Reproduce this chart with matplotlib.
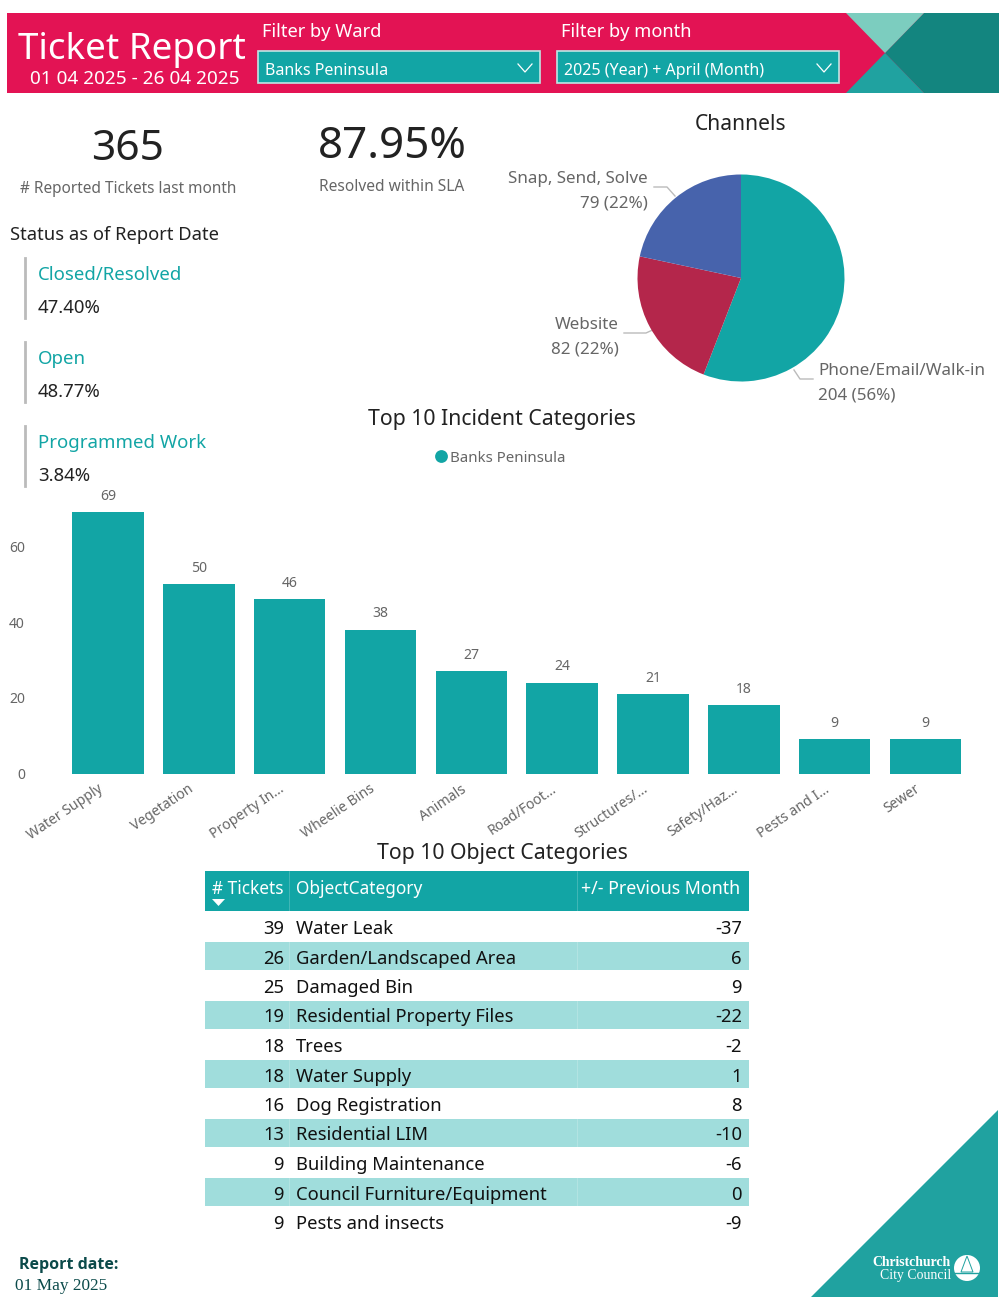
import matplotlib
matplotlib.use("Agg")
import matplotlib.pyplot as plt
from matplotlib.patches import Polygon, Rectangle, Circle
from matplotlib.transforms import ScaledTranslation

plt.rcParams["font.family"] = ["Noto Sans", "DejaVu Sans"]

W, H = 1004, 1312
TEAL = "#12A5A5"
PINK = "#E31354"
GREY = "#666666"
DARK = "#222222"
LOGO = "#20A2A0"

incident_categories = ["Water Supply", "Vegetation", "Property In...", "Wheelie Bins", "Animals",
                       "Road/Foot...", "Structures/...", "Safety/Haz...", "Pests and I...", "Sewer"]
incident_counts = [69, 50, 46, 38, 27, 24, 21, 18, 9, 9]

channel_names = ["Phone/Email/Walk-in", "Website", "Snap, Send, Solve"]
channel_counts = [204, 82, 79]
channel_colors = [TEAL, "#B4264B", "#4763AC"]

ticket_counts = [39, 26, 25, 19, 18, 18, 16, 13, 9, 9, 9]
object_categories = ["Water Leak", "Garden/Landscaped Area", "Damaged Bin", "Residential Property Files",
                     "Trees", "Water Supply", "Dog Registration", "Residential LIM",
                     "Building Maintenance", "Council Furniture/Equipment", "Pests and insects"]
previous_month = [-37, 6, 9, -22, -2, 1, 8, -10, -6, 0, -9]

status_names = ["Closed/Resolved", "Open", "Programmed Work"]
status_values = ["47.40%", "48.77%", "3.84%"]


def px_axes(left, top, right, bottom):
    return fig.add_axes([left / W, 1 - bottom / H, (right - left) / W, (bottom - top) / H])


def txt(x, y, s, size, color=DARK, ha="left", **kw):
    # size is in pixels, dpi is 100, y nudged since the font sits high
    bg.text(x, y + 2, s, fontsize=size * 0.72, color=color, ha=ha, va="center", **kw)


fig = plt.figure(figsize=(W / 100, H / 100), dpi=100)

# background layer in pixel coordinates
bg = fig.add_axes([0, 0, 1, 1])
bg.set_xlim(0, W)
bg.set_ylim(H, 0)
bg.axis("off")

# header band
bg.add_patch(Rectangle((7, 13), 992, 80, color=PINK, lw=0))
bg.add_patch(Polygon([(924, 13), (999, 13), (999, 93), (924, 93), (885, 53)], color="#13857F", lw=0))
bg.add_patch(Polygon([(846, 13), (924, 13), (885, 53)], color="#7CCDBF", lw=0))
bg.add_patch(Polygon([(846, 93), (924, 93), (885, 53)], color=LOGO, lw=0))
txt(132, 48, "Ticket Report", 36.8, "white", ha="center")
txt(135, 77, "01 04 2025 - 26 04 2025", 19, "white", ha="center")
txt(262, 30, "Filter by Ward", 18.3, "white")
txt(561, 30, "Filter by month", 18.3, "white")
for x0, label in [(258, "Banks Peninsula"), (557, "2025 (Year) + April (Month)")]:
    bg.add_patch(Rectangle((x0, 51), 282, 32, facecolor=TEAL, edgecolor="#BFE6E4", lw=1.2))
    txt(x0 + 7, 69, label, 16, "white")
    bg.plot([x0 + 260, x0 + 267, x0 + 274], [64, 72, 64], color="white", lw=0.9)

# KPI cards
txt(128, 147, "365", 42.5, ha="center")
txt(128, 187, "# Reported Tickets last month", 15.4, GREY, ha="center")
txt(392, 145, "87.95%", 44, ha="center")
txt(392, 185, "Resolved within SLA", 15.5, GREY, ha="center")

# status list
txt(10, 233, "Status as of Report Date", 18.4)
for i, (name, value) in enumerate(zip(status_names, status_values)):
    top = 258 + 84 * i
    bg.plot([25, 25], [top, top + 60], color="#BBBBBB", lw=2)
    txt(38, top + 15, name, 18.6, TEAL)
    txt(38, top + 48, value, 18.6)

# titles
txt(741, 123, "Channels", 21, ha="center")
txt(502, 417, "Top 10 Incident Categories", 21.3, ha="center")
txt(502, 851, "Top 10 Object Categories", 21.3, ha="center")

# pie
ax_pie = px_axes(637.5, 174.5, 844.5, 381.5)
ax_pie.pie(channel_counts, colors=channel_colors, startangle=90, counterclock=False, radius=1)
ax_pie.set_xlim(-1, 1)
ax_pie.set_ylim(-1, 1)

txt(818, 369, channel_names[0], 17, GREY)
txt(818, 393, "204 (56%)", 17, GREY)
txt(619, 323, channel_names[1], 17, GREY, ha="right")
txt(619, 347, "82 (22%)", 17, GREY, ha="right")
txt(648, 177, channel_names[2], 17, GREY, ha="right")
txt(648, 201, "79 (22%)", 17, GREY, ha="right")
bg.plot([794, 800, 813], [370, 379, 379], color="#BBBBBB", lw=1)
bg.plot([624, 646, 657], [333, 333, 328], color="#BBBBBB", lw=1)
bg.plot([654, 667, 675], [187, 187, 196], color="#BBBBBB", lw=1)

# bar chart
ax_bar = px_axes(62.6, 490, 971, 773.5)
ax_bar.bar(range(len(incident_counts)), incident_counts, width=0.787, color=TEAL)
ax_bar.set_xlim(-0.5, 9.5)
ax_bar.set_ylim(0, 283.5 / 3.783)
ax_bar.patch.set_alpha(0)
for i, v in enumerate(incident_counts):
    ax_bar.text(i, v + 2.2, str(v), ha="center", va="bottom", fontsize=14 * 0.72, color=GREY)
ax_bar.set_yticks([0, 20, 40, 60])
ax_bar.set_xticks(range(len(incident_categories)))
ax_bar.set_xticklabels(incident_categories, rotation=34, ha="right", rotation_mode="anchor",
                       fontsize=14 * 0.72, color=GREY)
ax_bar.tick_params(axis="x", length=0, pad=6)
ax_bar.tick_params(axis="y", length=0, pad=27, labelsize=14 * 0.72, labelcolor=GREY)
shift = ScaledTranslation(-11 / 100, 0, fig.dpi_scale_trans)
for lab in ax_bar.get_xticklabels():
    lab.set_transform(lab.get_transform() + shift)
for s in ax_bar.spines.values():
    s.set_visible(False)

# legend of the bar chart
bg.scatter([441], [456], s=85, color=TEAL, lw=0)
txt(450, 456, "Banks Peninsula", 15, GREY)

# table
bg.add_patch(Rectangle((205, 871), 544, 40, color=TEAL, lw=0))
txt(212, 887, "# Tickets", 17.2, "white")
txt(296, 887, "ObjectCategory", 17.2, "white")
txt(740, 887, "+/- Previous Month", 17.8, "white", ha="right")
bg.add_patch(Polygon([(212, 899), (225, 899), (218.5, 906)], color="white", lw=0))
row_h = 29.5
for i, (n, cat, diff) in enumerate(zip(ticket_counts, object_categories, previous_month)):
    top = 912 + row_h * i
    if i % 2 == 1:
        bg.add_patch(Rectangle((205, top), 544, row_h - 1, color="#A0DDDC", lw=0))
    y = top + 15
    txt(284, y, str(n), 18.4, "#111111", ha="right")
    txt(296, y, cat, 18.4, "#111111")
    txt(742, y, str(diff), 18.4, "#111111", ha="right")
for x in (289, 577):
    bg.plot([x, x], [871, 1237], color="#FFFFFF", lw=0.4, alpha=0.35)

# footer
txt(19, 1263, "Report date:", 16, "#0B4A4A", fontweight="bold", family="Open Sans")
txt(15, 1284, "01 May 2025", 17.2, "#0B4A4A", family="Liberation Serif")
bg.add_patch(Polygon([(811, 1297), (998, 1297), (998, 1110)], color=LOGO, lw=0))
txt(951, 1261, "Christchurch", 13.8, "white", ha="right", family="Liberation Serif", fontweight="bold")
txt(951, 1274, "City Council", 13.8, "white", ha="right", family="Liberation Serif")
bg.add_patch(Circle((967, 1268), 13, color="white", lw=0))
bg.add_patch(Polygon([(967, 1256), (961, 1272), (973, 1272)], facecolor="white", edgecolor=LOGO, lw=0.7))
bg.plot([954, 980], [1273, 1273], color=LOGO, lw=1)

fig.savefig("out.png", dpi=100)
